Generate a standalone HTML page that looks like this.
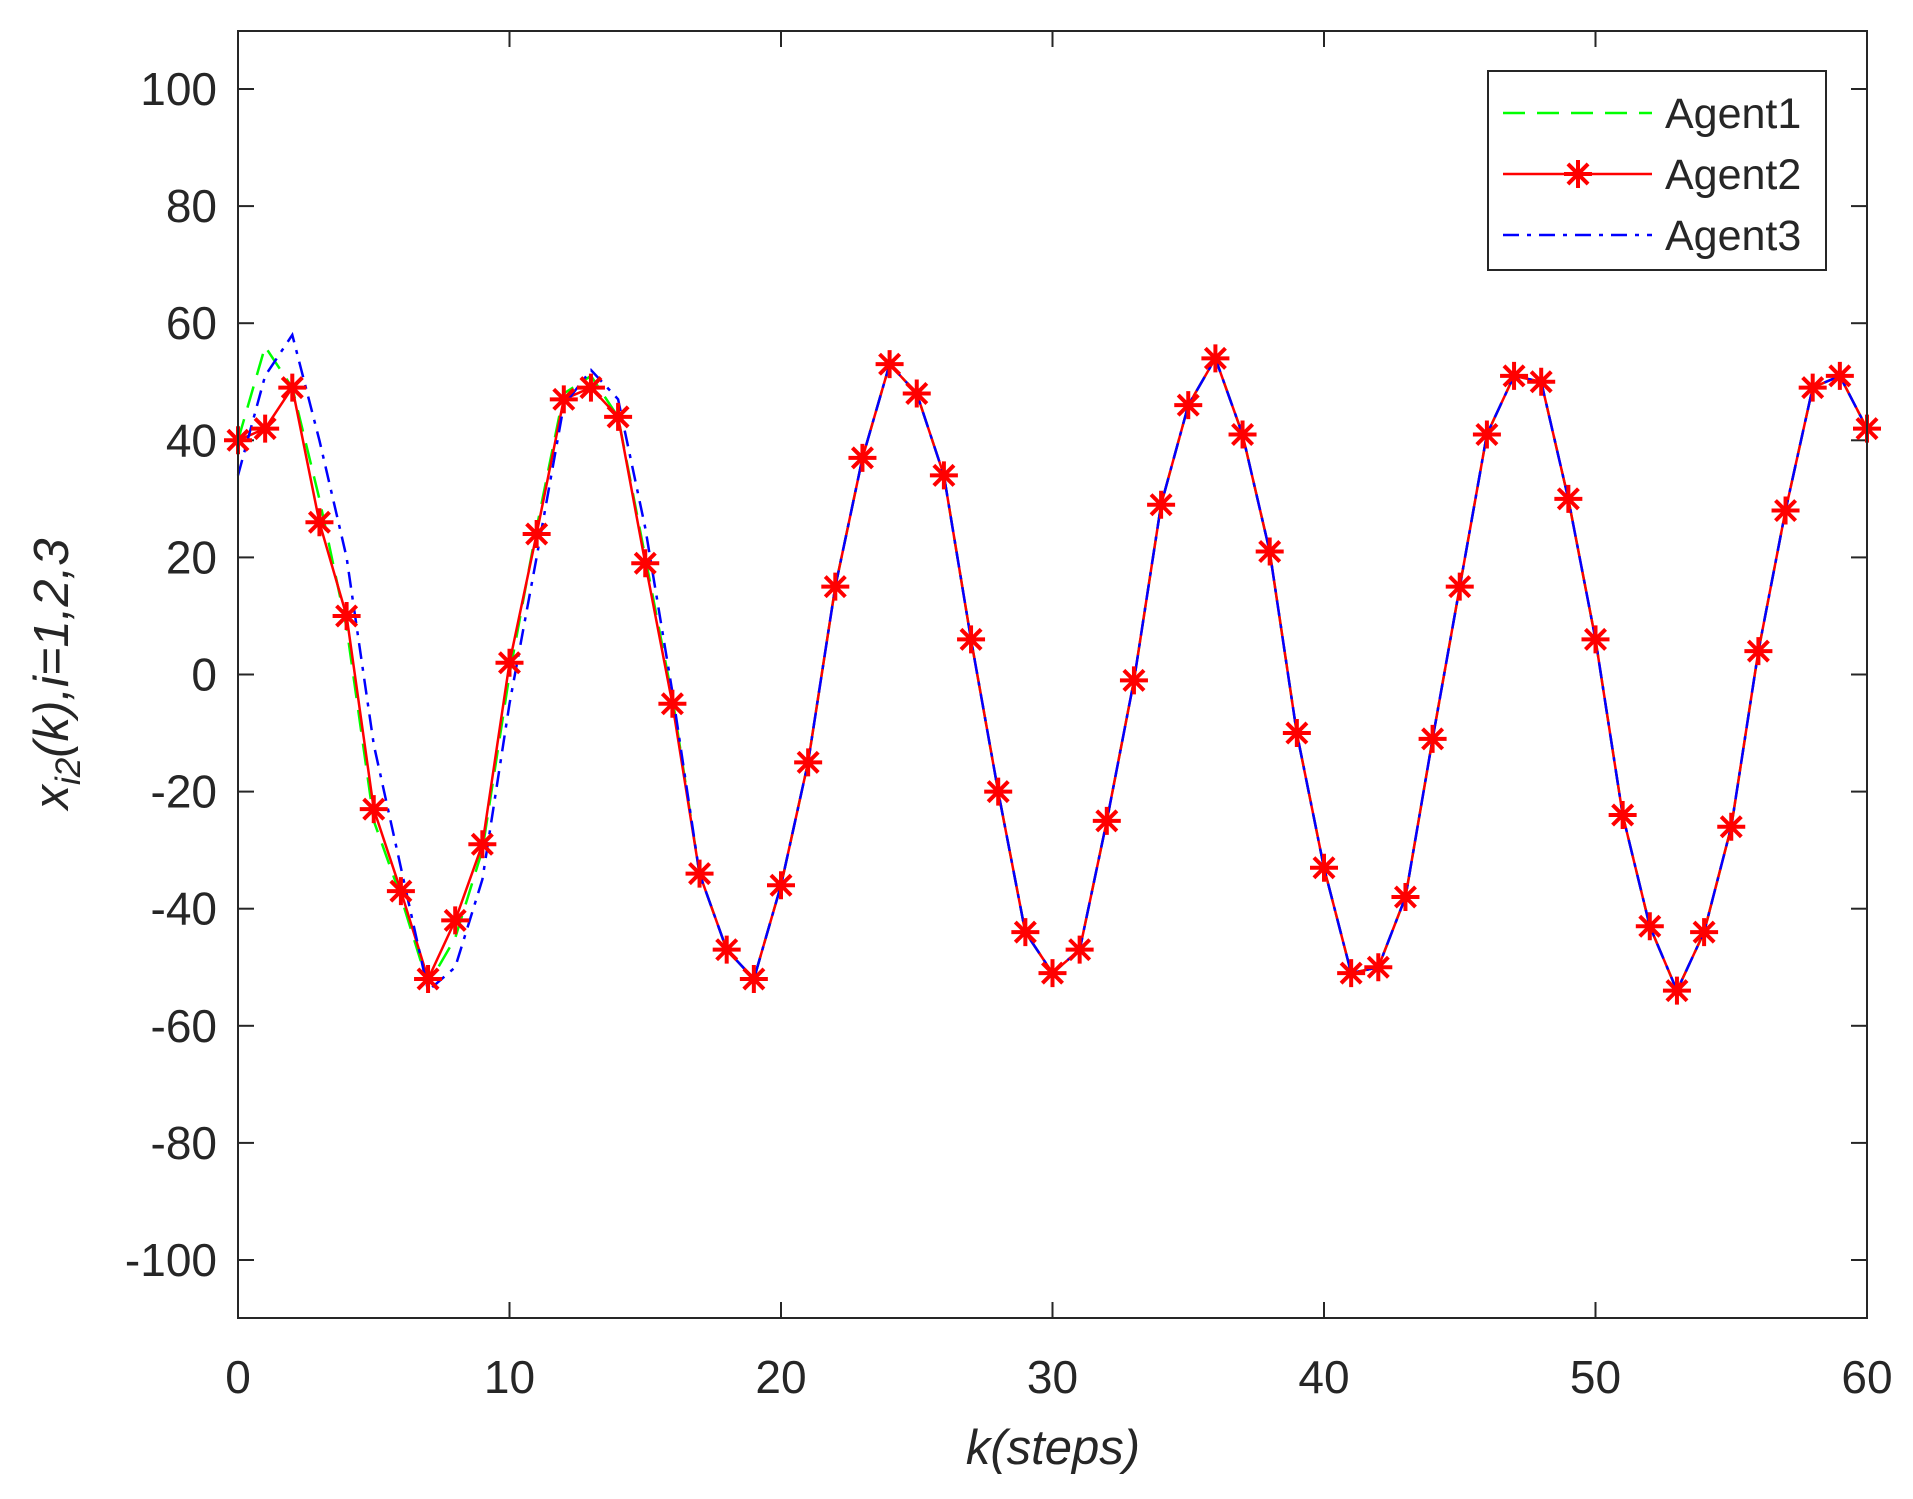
<!DOCTYPE html>
<html><head><meta charset="utf-8"><style>
html,body{margin:0;padding:0;background:#fff;}
svg{display:block;font-family:"Liberation Sans",sans-serif;}
</style></head><body>
<svg id="s" width="1913" height="1499" viewBox="0 0 1913 1499" xmlns="http://www.w3.org/2000/svg">
<rect width="1913" height="1499" fill="#fff"/>
<g id="ticks"></g>
<g id="series"></g>
<rect x="238" y="31" width="1629" height="1287" fill="none" stroke="#262626" stroke-width="2"/>
<g id="labels" font-size="46" fill="#262626"></g>
<text x="1053" y="1464" font-size="49" font-style="italic" text-anchor="middle" fill="#262626">k(steps)</text>
<text transform="translate(68,674) rotate(-90)" font-size="49" font-style="italic" text-anchor="middle" fill="#262626">x<tspan font-size="35" dy="12">i2</tspan><tspan dy="-12">(k),i=1,2,3</tspan></text>
<g id="legend">
<rect x="1488" y="71" width="338" height="199" fill="#fff" stroke="#262626" stroke-width="2"/>
<line x1="1503" y1="113" x2="1652" y2="113" stroke="#00ff00" stroke-width="2.5" stroke-dasharray="22,12"/>
<line x1="1503" y1="174" x2="1652" y2="174" stroke="#ff0000" stroke-width="2.5"/>
<line x1="1503" y1="235" x2="1652" y2="235" stroke="#0000ff" stroke-width="2.5" stroke-dasharray="16,8,4,8"/>
<g id="legmark"></g>
<text x="1665" y="128" font-size="43" fill="#262626">Agent1</text>
<text x="1665" y="189" font-size="43" fill="#262626">Agent2</text>
<text x="1665" y="250" font-size="43" fill="#262626">Agent3</text>
</g>
</svg>
<script>
const NS="http://www.w3.org/2000/svg";
const X=k=>238+k*1629/60, Y=v=>674.5-v*5.855;
function el(p,t,a,txt){const e=document.createElementNS(NS,t);for(const k in a)e.setAttribute(k,a[k]);if(txt!==undefined)e.textContent=txt;document.getElementById(p).appendChild(e);return e;}
for(let v=-100;v<=100;v+=20){const y=Y(v);
 el("ticks","line",{x1:238,y1:y,x2:254,y2:y,stroke:"#262626","stroke-width":2});
 el("ticks","line",{x1:1851,y1:y,x2:1867,y2:y,stroke:"#262626","stroke-width":2});
 el("labels","text",{x:217,y:y+16,"text-anchor":"end"},String(v));}
for(let k=0;k<=60;k+=10){const x=X(k);
 el("ticks","line",{x1:x,y1:31,x2:x,y2:47,stroke:"#262626","stroke-width":2});
 el("ticks","line",{x1:x,y1:1302,x2:x,y2:1318,stroke:"#262626","stroke-width":2});
 el("labels","text",{x:x,y:1393,"text-anchor":"middle"},String(k));}
const r=[40,42,49,26,10,-23,-37,-52,-42,-29,2,24,47,49,44,19,-5,-34,-47,-52,-36,-15,15,37,53,48,34,6,-20,-44,-51,-47,-25,-1,29,46,54,41,21,-10,-33,-51,-50,-38,-11,15,41,51,50,30,6,-24,-43,-54,-44,-26,4,28,49,51,42];
const g=r.slice();[40,56,49,30,8,-25,-38,-53,-45,-30,0,25,48,51,44,20,-4].forEach((v,i)=>g[i]=v);
const b=r.slice();[34,51,58,40,20,-12,-33,-54,-50,-35,-5,20,46,52,47,25,-3].forEach((v,i)=>b[i]=v);
const pts=a=>a.map((v,i)=>X(i).toFixed(1)+","+Y(v).toFixed(1)).join(" ");
el("series","polyline",{points:pts(g),fill:"none",stroke:"#00ff00","stroke-width":2.5,"stroke-dasharray":"22,12"});
el("series","polyline",{points:pts(r),fill:"none",stroke:"#ff0000","stroke-width":2.5});
el("series","polyline",{points:pts(b),fill:"none",stroke:"#0000ff","stroke-width":2.5,"stroke-dasharray":"16,8,4,8"});
function star(p,x,y){const s=14,d=s*0.72;
 const pth=`M${x-s},${y}H${x+s}M${x},${y-s}V${y+s}M${x-d},${y-d}L${x+d},${y+d}M${x-d},${y+d}L${x+d},${y-d}`;
 el(p,"path",{d:pth,stroke:"#ff0000","stroke-width":4,fill:"none"});}
r.forEach((v,i)=>star("series",X(i),Y(v)));
star("legmark",1578,174);
</script>
</body></html>
